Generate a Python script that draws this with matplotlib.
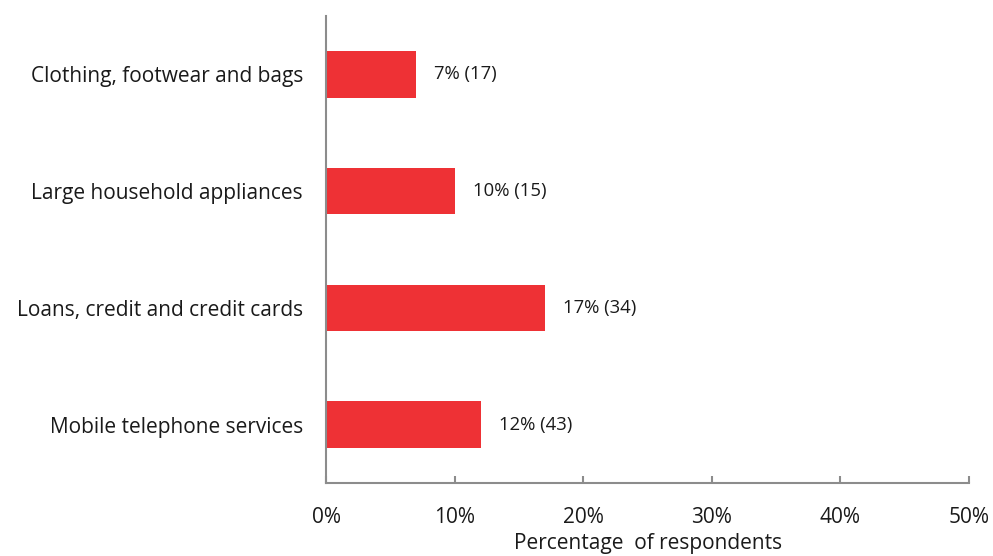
import matplotlib
matplotlib.use("Agg")
import matplotlib.pyplot as plt

categories = ["Mobile telephone services", "Loans, credit and credit cards",
              "Large household appliances", "Clothing, footwear and bags"]
percentages = [12, 17, 10, 7]
respondents = [43, 34, 15, 17]
xticks = [0, 10, 20, 30, 40, 50]

plt.rcParams["font.family"] = ["Open Sans", "DejaVu Sans"]

fig = plt.figure(figsize=(9.93, 5.56), dpi=100)
ax = fig.add_axes([0.3288, 0.1313, 0.6470, 0.8400])

ypos = list(range(len(categories)))
ax.barh(ypos, percentages, height=0.4, color="#EE3135")

for y, p, n in zip(ypos, percentages, respondents):
    ax.annotate(f"{p}% ({n})", xy=(p, y), xytext=(13, 0), textcoords="offset points",
                ha="left", va="center", fontsize=13.3, color="#1a1a1a")

ax.set_xlim(0, 50)
ax.set_ylim(-0.5, 3.5)
ax.set_yticks(ypos)
ax.set_yticklabels(categories, fontsize=15, color="#1a1a1a")
ax.set_xticks(xticks)
ax.set_xticklabels([f"{t}%" for t in xticks], fontsize=15, color="#1a1a1a")
ax.set_xlabel("Percentage  of respondents", fontsize=15, color="#1a1a1a", labelpad=4)

for side in ("top", "right"):
    ax.spines[side].set_visible(False)
for side in ("left", "bottom"):
    ax.spines[side].set_color("#8c8c8c")
    ax.spines[side].set_linewidth(1.5)

ax.tick_params(axis="y", length=0, pad=17)
ax.tick_params(axis="x", direction="in", length=5, width=1.5, color="#8c8c8c", pad=17)

fig.savefig("out.png", dpi=100)
